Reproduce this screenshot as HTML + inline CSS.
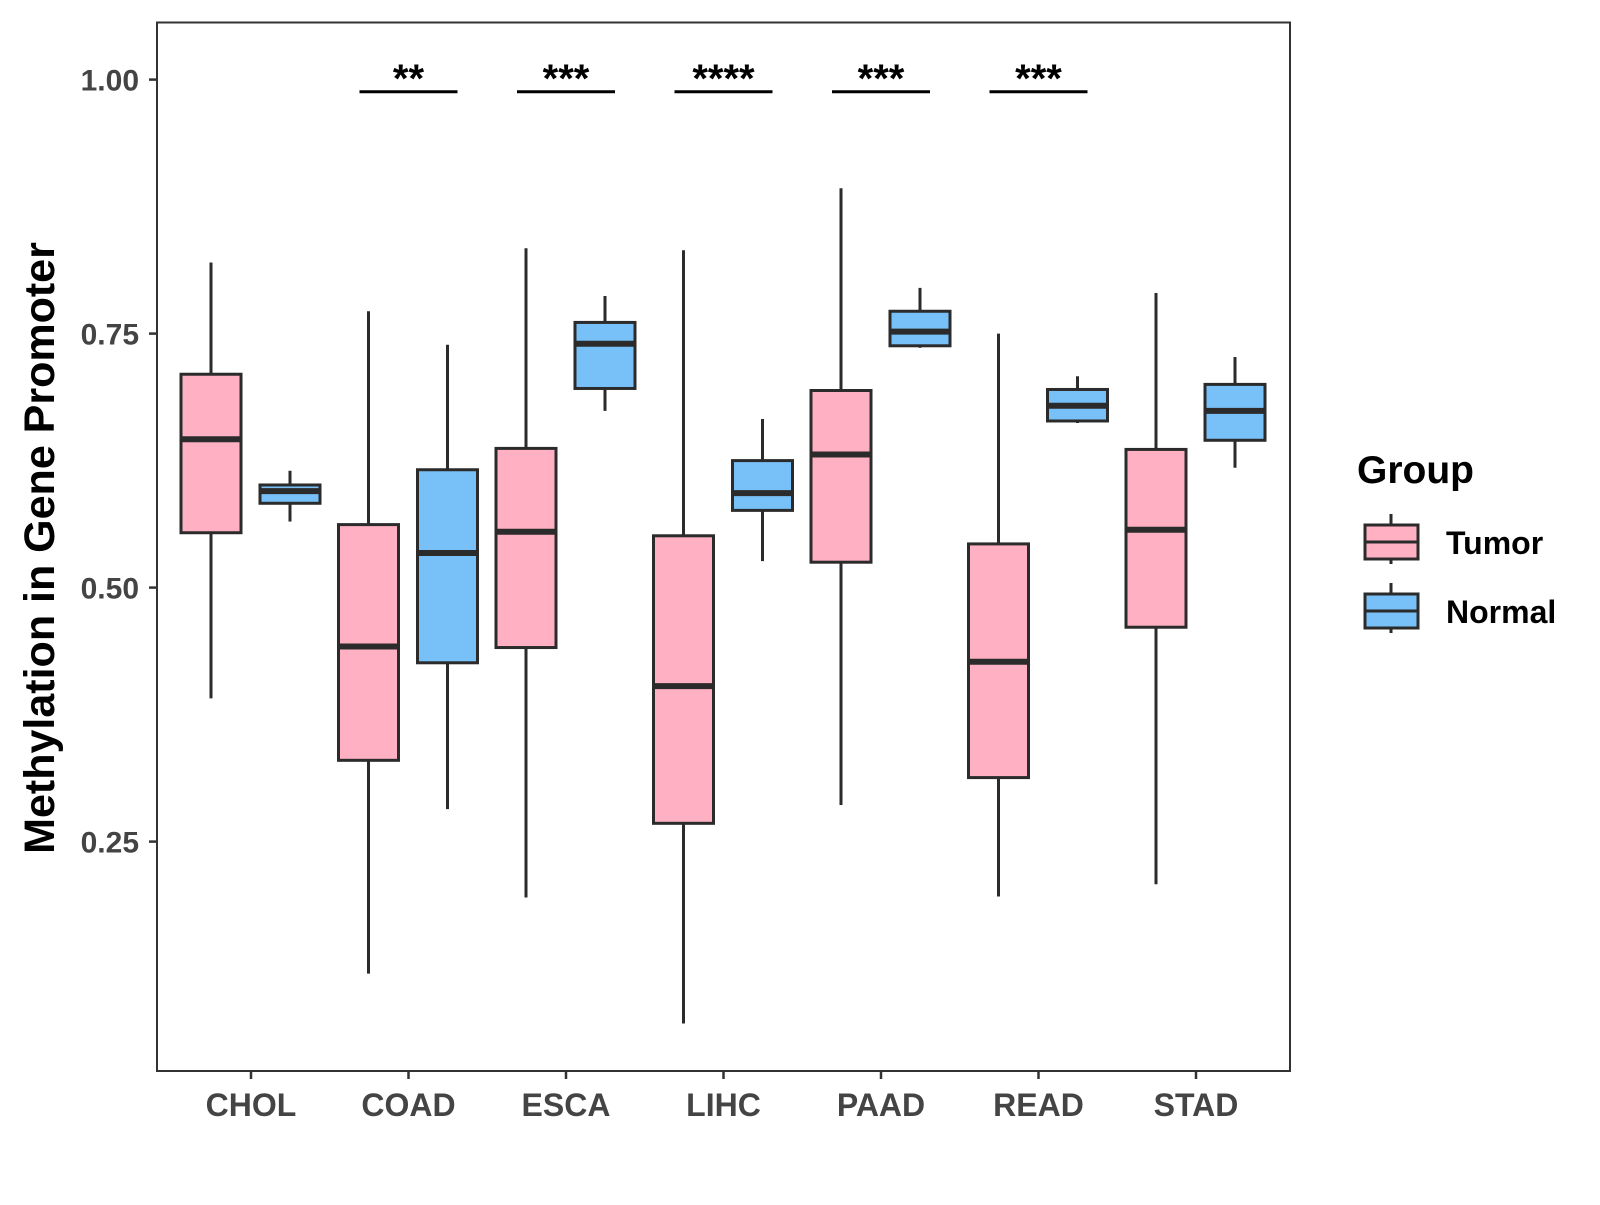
<!DOCTYPE html>
<html><head><meta charset="utf-8"><style>
body{margin:0;background:#fff}
text{font-family:"Liberation Sans",Arial,sans-serif;font-weight:bold}
</style></head><body>
<svg id="chart" width="1600" height="1200" xmlns="http://www.w3.org/2000/svg">
<rect x="0" y="0" width="1600" height="1200" fill="#fff"/>
<g id="marks"></g>
<g id="axes"></g>
<g>
<text x="1357" y="483" font-size="39" fill="#000">Group</text>
<g>
<line x1="1391" y1="514" x2="1391" y2="564" stroke="#2b2b2b" stroke-width="3"/>
<rect x="1365" y="525" width="53" height="34" fill="#FFB1C3" stroke="#2b2b2b" stroke-width="3"/>
<line x1="1365" y1="542" x2="1418" y2="542" stroke="#2b2b2b" stroke-width="3"/>
<text x="1446" y="554" font-size="32" fill="#000">Tumor</text>
</g>
<g>
<line x1="1391" y1="583" x2="1391" y2="633" stroke="#2b2b2b" stroke-width="3"/>
<rect x="1365" y="594" width="53" height="34" fill="#78C1F8" stroke="#2b2b2b" stroke-width="3"/>
<line x1="1365" y1="611" x2="1418" y2="611" stroke="#2b2b2b" stroke-width="3"/>
<text x="1446" y="623" font-size="32" fill="#000">Normal</text>
</g>
</g>
<text transform="translate(54,548) rotate(-90)" text-anchor="middle" font-size="43" fill="#000">Methylation in Gene Promoter</text>
</svg>
<script>
const categories=["CHOL","COAD","ESCA","LIHC","PAAD","READ","STAD"];
// [whiskerHigh, q3, median, q1, whiskerLow]
const tumorStats=[[0.820,0.710,0.646,0.554,0.391],[0.772,0.562,0.442,0.330,0.120],[0.834,0.637,0.555,0.441,0.195],[0.832,0.551,0.403,0.268,0.071],[0.893,0.694,0.631,0.525,0.286],[0.750,0.543,0.427,0.313,0.196],[0.790,0.636,0.557,0.461,0.208]];
const normalStats=[[0.615,0.601,0.595,0.583,0.565],[0.739,0.616,0.534,0.426,0.282],[0.787,0.761,0.740,0.696,0.674],[0.666,0.625,0.593,0.576,0.526],[0.795,0.772,0.752,0.738,0.736],[0.708,0.695,0.679,0.664,0.662],[0.727,0.700,0.674,0.645,0.618]];
const yTicks=[0.25,0.50,0.75,1.00];
const yTickLabels=["0.25","0.50","0.75","1.00"];
const sigLabels=["","**","***","****","***","***",""];
const sigLevel=0.988;

const NS="http://www.w3.org/2000/svg";
const L=157,R=1290,T=22.5,B=1071;
function y(v){return 79.6+(1-v)*1016;}
function x(i){return 251+i*157.5;}
function el(tag,attrs,parent){const e=document.createElementNS(NS,tag);for(const k in attrs)e.setAttribute(k,attrs[k]);parent.appendChild(e);return e;}
const marks=document.getElementById('marks'),axes=document.getElementById('axes');
const bw=60;
function drawBox(cx,s,fill,name){
  const g=el('g',{},marks);
  
  
  el('line',{x1:cx,x2:cx,y1:y(s[0]),y2:y(s[4]),stroke:'#2b2b2b','stroke-width':3},g);
  el('rect',{x:cx-bw/2,y:y(s[1]),width:bw,height:y(s[3])-y(s[1]),fill:fill,stroke:'#2b2b2b','stroke-width':3},g);
  el('line',{x1:cx-bw/2,x2:cx+bw/2,y1:y(s[2]),y2:y(s[2]),stroke:'#2b2b2b','stroke-width':6},g);
}
categories.forEach((c,i)=>{
  drawBox(x(i)-40,tumorStats[i],'#FFB1C3','box-tumor-'+c.toLowerCase());
  drawBox(x(i)+39,normalStats[i],'#78C1F8','box-normal-'+c.toLowerCase());
  if(sigLabels[i]){
    const g=el('g',{},marks);
    
    
    el('line',{x1:x(i)-49,x2:x(i)+49,y1:y(sigLevel),y2:y(sigLevel),stroke:'#000','stroke-width':3},g);
    const t=el('text',{x:x(i),y:y(sigLevel),'text-anchor':'middle','font-size':40,fill:'#000'},g);
    t.textContent=sigLabels[i];
  }
  const tk=el('line',{x1:x(i),x2:x(i),y1:B,y2:B+8,stroke:'#333','stroke-width':2.5},axes);
  
  
  const lb=el('text',{x:x(i),y:1116,'text-anchor':'middle','font-size':32,fill:'#444'},axes);
  
  
  lb.textContent=c;
});
yTicks.forEach((v,i)=>{
  const tk=el('line',{x1:L-8,x2:L,y1:y(v),y2:y(v),stroke:'#333','stroke-width':2.5},axes);
  
  
  const lb=el('text',{x:L-18,y:y(v)+11,'text-anchor':'end','font-size':30,fill:'#444'},axes);
  
  
  lb.textContent=yTickLabels[i];
});
const frame=el('rect',{x:L,y:T,width:R-L,height:B-T,fill:'none',stroke:'#333','stroke-width':2},axes);


</script>
</body></html>
